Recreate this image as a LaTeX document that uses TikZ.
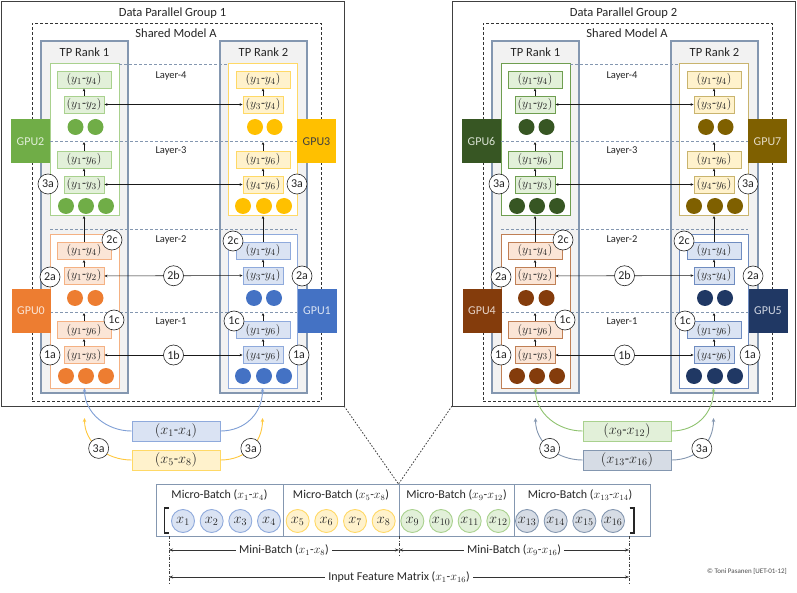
\documentclass[tikz,border=0pt]{standalone}
\usepackage{fontspec}
\setmainfont{Carlito}
\usetikzlibrary{arrows.meta}
\definecolor{rankfill}{HTML}{F2F2F2}
\definecolor{rankline}{HTML}{8497B0}
\definecolor{sepline}{HTML}{8497B0}
\definecolor{grpline}{HTML}{404040}
\definecolor{txt}{HTML}{262626}
% group 1
\definecolor{g1Ab}{HTML}{A9D18E}\definecolor{g1Af}{HTML}{E2F0D9}\definecolor{g1Ac}{HTML}{70AD47}\definecolor{g1At}{HTML}{E2F0D9}
\definecolor{g1Bb}{HTML}{FFD966}\definecolor{g1Bf}{HTML}{FFF2CC}\definecolor{g1Bc}{HTML}{FFC000}\definecolor{g1Bt}{HTML}{404040}
\definecolor{g1Cb}{HTML}{F4B183}\definecolor{g1Cf}{HTML}{FBE5D6}\definecolor{g1Cc}{HTML}{ED7D31}\definecolor{g1Ct}{HTML}{FBE5D6}
\definecolor{g1Db}{HTML}{8FAADC}\definecolor{g1Df}{HTML}{DAE3F3}\definecolor{g1Dc}{HTML}{4472C4}\definecolor{g1Dt}{HTML}{DAE3F3}
\definecolor{g1Xab}{HTML}{8FAADC}\definecolor{g1Xaf}{HTML}{DAE3F3}\definecolor{g1Xac}{HTML}{7F9FD6}
\definecolor{g1Xbb}{HTML}{FFD966}\definecolor{g1Xbf}{HTML}{FFF2CC}\definecolor{g1Xbc}{HTML}{FFC83D}
% group 2
\definecolor{g2Ab}{HTML}{6F9E50}\definecolor{g2Af}{HTML}{E2F0D9}\definecolor{g2Ac}{HTML}{375623}\definecolor{g2At}{HTML}{D9E2D3}
\definecolor{g2Bb}{HTML}{C9B46E}\definecolor{g2Bf}{HTML}{FFF2CC}\definecolor{g2Bc}{HTML}{7F6000}\definecolor{g2Bt}{HTML}{E5DCC6}
\definecolor{g2Cb}{HTML}{BF7F55}\definecolor{g2Cf}{HTML}{FBE5D6}\definecolor{g2Cc}{HTML}{843C0C}\definecolor{g2Ct}{HTML}{E6D3C8}
\definecolor{g2Db}{HTML}{6F8CC0}\definecolor{g2Df}{HTML}{DAE3F3}\definecolor{g2Dc}{HTML}{203864}\definecolor{g2Dt}{HTML}{D0D6E2}
\definecolor{g2Xab}{HTML}{A9D18E}\definecolor{g2Xaf}{HTML}{E2F0D9}\definecolor{g2Xac}{HTML}{8FC36F}
\definecolor{g2Xbb}{HTML}{8497B0}\definecolor{g2Xbf}{HTML}{D6DCE5}\definecolor{g2Xbc}{HTML}{8497B0}
% matrix
\definecolor{mAb}{HTML}{8FAADC}\definecolor{mAf}{HTML}{DAE3F3}
\definecolor{mBb}{HTML}{FFD966}\definecolor{mBf}{HTML}{FFF2CC}
\definecolor{mCb}{HTML}{A9D18E}\definecolor{mCf}{HTML}{E2F0D9}
\definecolor{mDb}{HTML}{8497B0}\definecolor{mDf}{HTML}{D6DCE5}
\definecolor{matline}{HTML}{8497B0}
\tikzset{
  grp/.style={draw=grpline, line width=0.9pt, inner sep=0pt, outer sep=0pt},
  shared/.style={draw=black!80, dash pattern=on 3pt off 2pt, line width=0.7pt, inner sep=0pt, outer sep=0pt},
  rankbox/.style={draw=rankline, fill=rankfill, line width=1.1pt, inner sep=0pt, outer sep=0pt},
  cont/.style={draw=#1, fill=white, line width=1pt, inner sep=0pt, outer sep=0pt},
  ybox/.style 2 args={draw=#1, fill=#2, line width=0.9pt, inner sep=0pt, minimum height=17pt, font=\fontsize{13}{13}\selectfont, text=txt},
  wide/.style={minimum width=54pt},
  narrow/.style={minimum width=40pt},
  ball/.style={circle, fill=#1, minimum size=16pt, inner sep=0pt},
  lbl/.style={circle, draw=black!85, fill=white, line width=0.6pt, minimum size=20pt, inner sep=0pt, font=\fontsize{12}{12}\selectfont, text=txt},
  gpu/.style 2 args={fill=#1, text=#2, minimum width=39pt, minimum height=44pt, inner sep=0pt, font=\fontsize{12}{14}\selectfont},
  laysep/.style={draw=sepline, dash pattern=on 3pt off 2pt, line width=0.7pt},
  laytxt/.style={font=\fontsize{10.5}{12}\selectfont, text=txt},
  ttl/.style={font=\fontsize{12.5}{14}\selectfont, text=txt},
  rk/.style={font=\fontsize{12.5}{14}\selectfont, text=txt},
  arr/.style={-{Stealth[length=3pt,width=2.6pt]}, line width=0.5pt, draw=black!90},
  darr/.style={{Stealth[length=3pt,width=2.6pt]}-{Stealth[length=3pt,width=2.6pt]}, line width=0.6pt, draw=black!90},
  xbox/.style 2 args={draw=#1, fill=#2, line width=0.9pt, inner sep=0pt, minimum width=88pt, minimum height=20pt, font=\fontsize{14}{14}\selectfont, text=txt},
  carr/.style={draw=#1, line width=0.9pt, -{Stealth[length=4pt,width=3.5pt]}},
  xcirc/.style 2 args={circle, draw=#1, fill=#2, line width=0.9pt, minimum size=23pt, inner sep=0pt, font=\fontsize{14}{14}\selectfont, text=txt},
  mbtxt/.style={font=\fontsize{12}{13}\selectfont, text=txt},
  marr/.style={{Stealth[length=4pt,width=3pt]}-{Stealth[length=4pt,width=3pt]}, line width=0.5pt, draw=black!80},
  mlbl/.style={fill=white, inner xsep=3pt, inner ysep=1pt, font=\fontsize{12}{13}\selectfont, text=txt},
  vdash/.style={draw=black!75, line width=0.6pt, dash pattern=on 3pt off 1.5pt on 1pt off 1.5pt},
  dotl/.style={draw=black!75, line width=0.8pt, dash pattern=on 1.6pt off 1.6pt},
}
\newcommand{\DPGroup}[9]{%
\begin{scope}[xshift=#1pt]
\node[grp, anchor=north west, minimum width=343pt, minimum height=405pt] (#2-grp) at (1,1) {};
\node[ttl] (#2-title) at (172.5,13) {Data Parallel Group #3};
\node[shared, anchor=north west, minimum width=289pt, minimum height=378pt] (#2-sh) at (32,23) {};
\node[ttl] (#2-shttl) at (176,33) {Shared Model A};
\node[rankbox, anchor=north west, minimum width=87pt, minimum height=352pt] (#2-r1) at (41,41) {};
\node[rankbox, anchor=north west, minimum width=87pt, minimum height=352pt] (#2-r2) at (220,41) {};
\node[rk] (#2-r1l) at (84.5,52.5) {TP Rank 1};
\node[rk] (#2-r2l) at (263.5,52.5) {TP Rank 2};
\node[cont=#2Ab, anchor=north west, minimum width=69pt, minimum height=152pt] (#2-k1t) at (50,64) {};
\node[cont=#2Cb, anchor=north west, minimum width=69pt, minimum height=153pt] (#2-k1b) at (50,235) {};
\node[cont=#2Bb, anchor=north west, minimum width=69pt, minimum height=152pt] (#2-k2t) at (228,64) {};
\node[cont=#2Db, anchor=north west, minimum width=69pt, minimum height=153pt] (#2-k2b) at (228,235) {};
% layer separators
\coordinate (#2-l4a) at (119,64); \coordinate (#2-l4b) at (228,64);
\coordinate (#2-l3a) at (50,141); \coordinate (#2-l3b) at (297,141);
\coordinate (#2-l2a) at (50,229); \coordinate (#2-l2b) at (297,229);
\coordinate (#2-l1a) at (50,312); \coordinate (#2-l1b) at (297,312);
\draw[laysep] (#2-l4a) -- (#2-l4b);
\draw[laysep] (#2-l3a) -- (#2-l3b);
\draw[laysep] (#2-l2a) -- (#2-l2b);
\draw[laysep] (#2-l1a) -- (#2-l1b);
\node[laytxt] (#2-L4) at (171,76) {Layer-4};
\node[laytxt] (#2-L3) at (171,151) {Layer-3};
\node[laytxt] (#2-L2) at (171,240) {Layer-2};
\node[laytxt] (#2-L1) at (171,322) {Layer-1};
% GPUs
\node[gpu={#2Ac}{#2At}] (#2-gA) at (30.5,141.5) {GPU#4};
\node[gpu={#2Bc}{#2Bt}] (#2-gB) at (316.5,141.5) {GPU#5};
\node[gpu={#2Cc}{#2Ct}] (#2-gC) at (31,311) {GPU#6};
\node[gpu={#2Dc}{#2Dt}] (#2-gD) at (317,311) {GPU#7};
% rank 1 top
\node[ybox={#2Ab}{#2Af}, wide] (#2-a4) at (84,79.5) {$(y_1$-$y_4)$};
\node[ybox={#2Ab}{#2Af}, narrow] (#2-a3) at (84,104.5) {$(y_1$-$y_2)$};
\node[ball=#2Ac] (#2-a3d1) at (75.5,127) {};
\node[ball=#2Ac] (#2-a3d2) at (95.5,127) {};
\node[ybox={#2Ab}{#2Af}, wide] (#2-a2) at (84,159.5) {$(y_1$-$y_6)$};
\node[ybox={#2Ab}{#2Af}, narrow] (#2-a1) at (84,184.5) {$(y_1$-$y_3)$};
\node[ball=#2Ac] (#2-a1d1) at (66,206) {};
\node[ball=#2Ac] (#2-a1d2) at (86,206) {};
\node[ball=#2Ac] (#2-a1d3) at (106,206) {};
% rank 2 top
\node[ybox={#2Bb}{#2Bf}, wide] (#2-b4) at (263,79.5) {$(y_1$-$y_4)$};
\node[ybox={#2Bb}{#2Bf}, narrow] (#2-b3) at (263,104.5) {$(y_3$-$y_4)$};
\node[ball=#2Bc] (#2-b3d1) at (255,127) {};
\node[ball=#2Bc] (#2-b3d2) at (274.5,127) {};
\node[ybox={#2Bb}{#2Bf}, wide] (#2-b2) at (263,159.5) {$(y_1$-$y_6)$};
\node[ybox={#2Bb}{#2Bf}, narrow] (#2-b1) at (263,184.5) {$(y_4$-$y_6)$};
\node[ball=#2Bc] (#2-b1d1) at (243,206) {};
\node[ball=#2Bc] (#2-b1d2) at (264,206) {};
\node[ball=#2Bc] (#2-b1d3) at (284,206) {};
% rank 1 bottom
\node[ybox={#2Cb}{#2Cf}, wide] (#2-c4) at (84,251) {$(y_1$-$y_4)$};
\node[ybox={#2Cb}{#2Cf}, narrow] (#2-c3) at (84,276) {$(y_1$-$y_2)$};
\node[ball=#2Cc] (#2-c3d1) at (75,298) {};
\node[ball=#2Cc] (#2-c3d2) at (95.5,298) {};
\node[ybox={#2Cb}{#2Cf}, wide] (#2-c2) at (84,330) {$(y_1$-$y_6)$};
\node[ybox={#2Cb}{#2Cf}, narrow] (#2-c1) at (84,355) {$(y_1$-$y_3)$};
\node[ball=#2Cc] (#2-c1d1) at (66,376) {};
\node[ball=#2Cc] (#2-c1d2) at (86,376) {};
\node[ball=#2Cc] (#2-c1d3) at (106,376) {};
% rank 2 bottom
\node[ybox={#2Db}{#2Df}, wide] (#2-d4) at (263,250.5) {$(y_1$-$y_4)$};
\node[ybox={#2Db}{#2Df}, narrow] (#2-d3) at (263,275.5) {$(y_3$-$y_4)$};
\node[ball=#2Dc] (#2-d3d1) at (254,298) {};
\node[ball=#2Dc] (#2-d3d2) at (274,298) {};
\node[ybox={#2Db}{#2Df}, wide] (#2-d2) at (263,330) {$(y_1$-$y_6)$};
\node[ybox={#2Db}{#2Df}, narrow] (#2-d1) at (263,355) {$(y_4$-$y_6)$};
\node[ball=#2Dc] (#2-d1d1) at (243,376) {};
\node[ball=#2Dc] (#2-d1d2) at (264,376) {};
\node[ball=#2Dc] (#2-d1d3) at (284,376) {};
% vertical arrows
\coordinate (#2-ua3) at (84,142); \coordinate (#2-ub3) at (263,142);
\coordinate (#2-ua2) at (84,216); \coordinate (#2-ub2) at (263,216);
\coordinate (#2-ua1) at (84,313); \coordinate (#2-ub1) at (263,313);
\draw[arr] (#2-a3) -- (#2-a4);
\draw[arr] (#2-a2) -- (#2-ua3);
\draw[arr] (#2-a1) -- (#2-a2);
\draw[arr] (#2-c4) -- (#2-ua2);
\draw[arr] (#2-c3) -- (#2-c4);
\draw[arr] (#2-c2) -- (#2-ua1);
\draw[arr] (#2-c1) -- (#2-c2);
\draw[arr] (#2-b3) -- (#2-b4);
\draw[arr] (#2-b2) -- (#2-ub3);
\draw[arr] (#2-b1) -- (#2-b2);
\draw[arr] (#2-d4) -- (#2-ub2);
\draw[arr] (#2-d3) -- (#2-d4);
\draw[arr] (#2-d2) -- (#2-ub1);
\draw[arr] (#2-d1) -- (#2-d2);
% horizontal arrows
\draw[darr] (#2-a3) -- (#2-b3);
\draw[darr] (#2-a1) -- (#2-b1);
\draw[darr] (#2-c3) -- node[lbl] (#2-n2b) {2b} (#2-d3);
\draw[darr] (#2-c1) -- node[lbl] (#2-n1b) {1b} (#2-d1);
% step labels
\node[lbl] (#2-n3aL) at (48,184) {3a};
\node[lbl] (#2-n3aR) at (297,184) {3a};
\node[lbl] (#2-n2cL) at (112,240) {2c};
\node[lbl] (#2-n2cR) at (233,241) {2c};
\node[lbl] (#2-n2aL) at (50,277) {2a};
\node[lbl] (#2-n2aR) at (302,276) {2a};
\node[lbl] (#2-n1cL) at (114,320) {1c};
\node[lbl] (#2-n1cR) at (234,321) {1c};
\node[lbl] (#2-n1aL) at (50,355) {1a};
\node[lbl] (#2-n1aR) at (299,355) {1a};
% micro-batch inputs
\node[xbox={#2Xab}{#2Xaf}] (#2-xa) at (176,431) {#8};
\node[xbox={#2Xbb}{#2Xbf}] (#2-xb) at (176,460) {#9};
\coordinate (#2-ta1) at (84.5,418); \coordinate (#2-ta2) at (262.5,418);
\draw[carr=#2Xac] (#2-xa.west) .. controls +(-25,0) and +(0,25) .. (#2-k1b.south);
\draw[carr=#2Xac] (#2-xa.east) .. controls +(25,0) and +(0,25) .. (#2-k2b.south);
\draw[carr=#2Xbc] (#2-xb.west) .. controls +(-25,0) and +(0,25) .. node[lbl, pos=0.5] (#2-n3b1) {3a} (#2-ta1);
\draw[carr=#2Xbc] (#2-xb.east) .. controls +(25,0) and +(0,25) .. node[lbl, pos=0.5] (#2-n3b2) {3a} (#2-ta2);
\end{scope}}
\begin{document}
\begin{tikzpicture}[x=1pt,y=-1pt]
\useasboundingbox (0,0) rectangle (797,593);
\fill[white] (0,0) rectangle (797,593);
\DPGroup{0}{g1}{1}{2}{3}{0}{1}{$(x_1$-$x_4)$}{$(x_5$-$x_8)$}
\DPGroup{451}{g2}{2}{6}{7}{4}{5}{$(x_9$-$x_{12})$}{$(x_{13}$-$x_{16})$}
% matrix
\node[draw=matline, line width=0.9pt, fill=white, anchor=north west, minimum width=494pt, minimum height=52pt, inner sep=0pt, outer sep=0pt] (mat) at (156,484) {};
\coordinate (mtop) at (398.5,484);
\draw[dotl] (g1-grp.south east) -- (mtop);
\draw[dotl] (g2-grp.south west) -- (mtop);
\draw[draw=matline, line width=0.9pt] (283,484) -- (283,536);
\draw[draw=matline, line width=0.9pt] (399,484) -- (399,536);
\draw[draw=matline, line width=0.9pt] (514,484) -- (514,536);
\node[mbtxt] (mb1) at (219.5,495) {Micro-Batch ($x_1$-$x_4$)};
\node[mbtxt] (mb2) at (341,495) {Micro-Batch ($x_5$-$x_8$)};
\node[mbtxt] (mb3) at (456.5,495) {Micro-Batch ($x_9$-$x_{12}$)};
\node[mbtxt] (mb4) at (580,495) {Micro-Batch ($x_{13}$-$x_{14}$)};
\foreach \i/\bc/\fc in {1/mAb/mAf,2/mAb/mAf,3/mAb/mAf,4/mAb/mAf,5/mBb/mBf,6/mBb/mBf,7/mBb/mBf,8/mBb/mBf,9/mCb/mCf,10/mCb/mCf,11/mCb/mCf,12/mCb/mCf,13/mDb/mDf,14/mDb/mDf,15/mDb/mDf,16/mDb/mDf}{
  \node[xcirc={\bc}{\fc}] (xc\i) at ({183+28.667*(\i-1)},521) {$x_{\i}$};
}
\draw[line width=1.5pt, black!85] (169,508) -- (164.5,508) -- (164.5,533) -- (169,533);
\draw[line width=1.5pt, black!85] (629.5,508) -- (634,508) -- (634,533) -- (629.5,533);
% dimension lines
\coordinate (dA1) at (169,536); \coordinate (dA2) at (169,584);
\coordinate (dB1) at (399,536); \coordinate (dB2) at (399,557);
\coordinate (dC1) at (629,536); \coordinate (dC2) at (629,584);
\draw[vdash] (dA1) -- (dA2);
\draw[vdash] (dB1) -- (dB2);
\draw[vdash] (dC1) -- (dC2);
\coordinate (mbL) at (169,550); \coordinate (mbM) at (399,550); \coordinate (mbR) at (629,550);
\coordinate (ifL) at (169,577); \coordinate (ifR) at (629,577);
\draw[marr] (mbL) -- node[mlbl] (mbl1) {Mini-Batch ($x_1$-$x_8$)} (mbM);
\draw[marr] (mbM) -- node[mlbl] (mbl2) {Mini-Batch ($x_9$-$x_{16}$)} (mbR);
\draw[marr] (ifL) -- node[mlbl] (ifl) {Input Feature Matrix ($x_1$-$x_{16}$)} (ifR);
\node[font=\fontsize{7}{8}\selectfont, text=black!70] (copy) at (747,571) {© Toni Pasanen [UET-01-12]};
\end{tikzpicture}
\end{document}
